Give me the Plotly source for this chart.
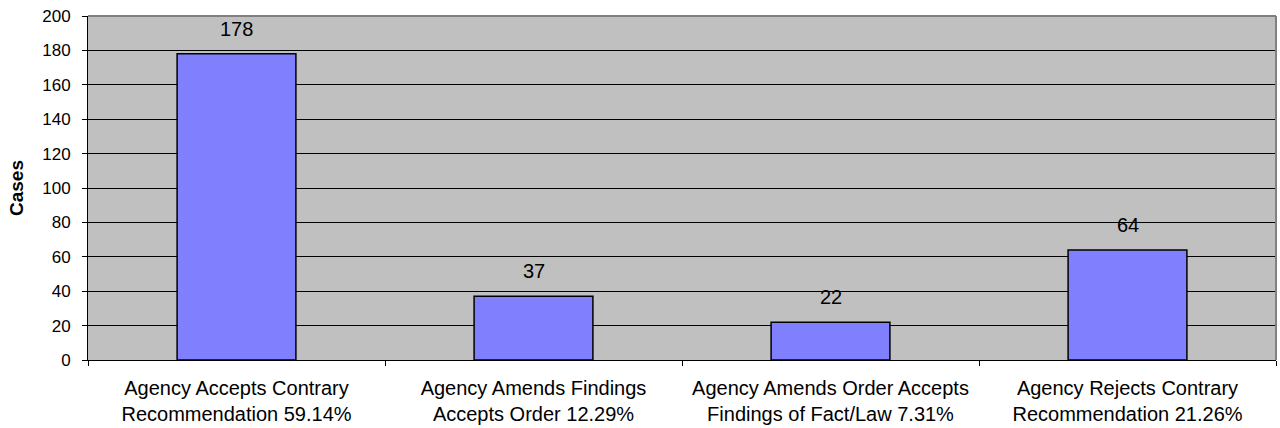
import plotly.graph_objects as go

categories = [
    "Agency Accepts Contrary<br>Recommendation 59.14%",
    "Agency Amends Findings<br>Accepts Order 12.29%",
    "Agency Amends Order Accepts<br>Findings of Fact/Law 7.31%",
    "Agency Rejects Contrary<br>Recommendation 21.26%",
]
cases = [178, 37, 22, 64]
y_ticks = [0, 20, 40, 60, 80, 100, 120, 140, 160, 180, 200]

FONT = "Liberation Sans, Arial, sans-serif"

fig = go.Figure()
fig.add_trace(go.Bar(
    x=categories,
    y=cases,
    width=0.4,
    marker=dict(color="#8080FF", line=dict(color="black", width=1.5)),
    hoverinfo="x+y",
))

for c, v in zip(categories, cases):
    fig.add_annotation(
        x=c, y=v, xref="x", yref="y", text=str(v), showarrow=False,
        yshift=25, yanchor="middle",
        font=dict(family=FONT, size=20, color="black"),
    )

fig.update_layout(
    width=1280, height=428,
    margin=dict(l=88, r=4, t=16, b=68),
    paper_bgcolor="white",
    plot_bgcolor="#C0C0C0",
    showlegend=False,
    bargap=0.6,
    font=dict(family=FONT, color="black"),
)
fig.update_xaxes(
    type="category",
    automargin=False,
    tickson="boundaries",
    ticks="outside", ticklen=5, tickcolor="black", tickwidth=1,
    showgrid=False,
    showline=True, linecolor="black", linewidth=1,
    tickfont=dict(family=FONT, size=20, color="black"),
    ticklabelstandoff=10,
)
fig.update_yaxes(
    range=[0, 200],
    automargin=False,
    tickvals=y_ticks,
    ticks="outside", ticklen=5, tickcolor="black", tickwidth=1,
    showgrid=True, gridcolor="black", gridwidth=1,
    zeroline=False,
    showline=True, linecolor="black", linewidth=1,
    tickfont=dict(family=FONT, size=17, color="black"),
    ticklabelstandoff=8,
    title=dict(text="<b>Cases</b>", font=dict(family=FONT, size=19, color="black"), standoff=13),
)
# gray border on top and right edges of plot area
fig.add_shape(type="line", xref="paper", yref="paper", x0=0, x1=1, y0=1, y1=1,
              line=dict(color="#808080", width=2), layer="above")
fig.add_shape(type="line", xref="paper", yref="paper", x0=1, x1=1, y0=0, y1=1,
              line=dict(color="#808080", width=2), layer="above")

fig.write_html("out.html", config={"displayModeBar": False},
               post_script="document.body.style.margin='0';")
